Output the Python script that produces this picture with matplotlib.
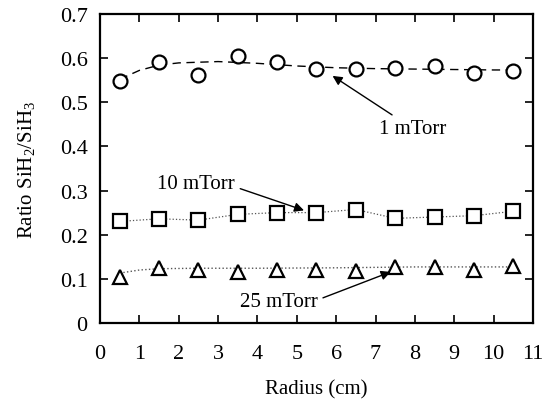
import matplotlib
matplotlib.use('Agg')
import matplotlib.pyplot as plt

plt.rcParams['font.family'] = ['Liberation Serif', 'DejaVu Serif']
plt.rcParams['mathtext.default'] = 'regular'

# radius positions (cm)
radius = [0.5, 1.5, 2.5, 3.5, 4.5, 5.5, 6.5, 7.5, 8.5, 9.5, 10.5]

ratio_1mtorr = [0.548, 0.592, 0.562, 0.605, 0.590, 0.575, 0.575, 0.577, 0.583, 0.567, 0.570]
ratio_10mtorr = [0.230, 0.236, 0.233, 0.246, 0.250, 0.250, 0.257, 0.237, 0.240, 0.243, 0.253]
ratio_25mtorr = [0.105, 0.124, 0.121, 0.116, 0.121, 0.121, 0.118, 0.127, 0.127, 0.120, 0.129]

# guide lines through the data
fit1_r = [0.5, 1.0, 1.5, 2.0, 3.0, 4.0, 5.0, 6.0, 7.0, 8.0, 9.0, 10.0, 10.5]
fit1_v = [0.552, 0.572, 0.584, 0.589, 0.592, 0.588, 0.582, 0.578, 0.576, 0.575, 0.574, 0.573, 0.573]
fit25_r = [0.5, 1.0, 1.5, 2.5, 4.0, 6.0, 8.0, 10.5]
fit25_v = [0.113, 0.120, 0.123, 0.124, 0.124, 0.125, 0.127, 0.127]

fig = plt.figure(figsize=(5.48, 4.02), dpi=100)
ax = fig.add_axes([0.1825, 0.194, 0.79, 0.769])

ax.plot(fit1_r, fit1_v, color='black', lw=1.0, dashes=(6, 4), zorder=1)
ax.plot(radius, ratio_10mtorr, color='#555555', lw=0.9, ls=':', zorder=1)
ax.plot(fit25_r, fit25_v, color='#555555', lw=1.0, ls=':', zorder=1)

mk = dict(ls='none', mfc='white', mec='black', mew=1.6, ms=10, zorder=3)
ax.plot(radius, ratio_1mtorr, marker='o', **mk)
ax.plot(radius, ratio_10mtorr, marker='s', **mk)
ax.plot(radius, ratio_25mtorr, marker='^', **mk)

ax.set_xlim(0, 11)
ax.set_ylim(0, 0.7)
ax.set_xticks(range(0, 12))
ax.set_yticks([0, 0.1, 0.2, 0.3, 0.4, 0.5, 0.6, 0.7])
ax.set_yticklabels(['0', '0.1', '0.2', '0.3', '0.4', '0.5', '0.6', '0.7'])
ax.tick_params(direction='in', top=True, right=True, length=6, width=1.2,
               labelsize=16)
ax.tick_params(axis='x', pad=15)
ax.tick_params(axis='y', pad=9)
for s in ax.spines.values():
    s.set_linewidth(1.6)

ax.set_xlabel('Radius (cm)', fontsize=15, labelpad=12)
ax.set_ylabel('Ratio SiH$_2$/SiH$_3$', fontsize=15, labelpad=16)

arrow = dict(arrowstyle='-|>', color='black', lw=1.0, mutation_scale=14)
ax.annotate('1 mTorr', xy=(5.85, 0.563), xytext=(7.1, 0.44), fontsize=15,
            va='center', arrowprops=arrow)
ax.annotate('10 mTorr', xy=(5.25, 0.253), xytext=(1.45, 0.317), fontsize=15,
            va='center', arrowprops=dict(arrow, relpos=(1.0, 0.3)))
ax.annotate('25 mTorr', xy=(7.45, 0.118), xytext=(3.55, 0.048), fontsize=15,
            va='center', arrowprops=dict(arrow, relpos=(1.0, 0.6)))

fig.savefig('out.png', dpi=100)
